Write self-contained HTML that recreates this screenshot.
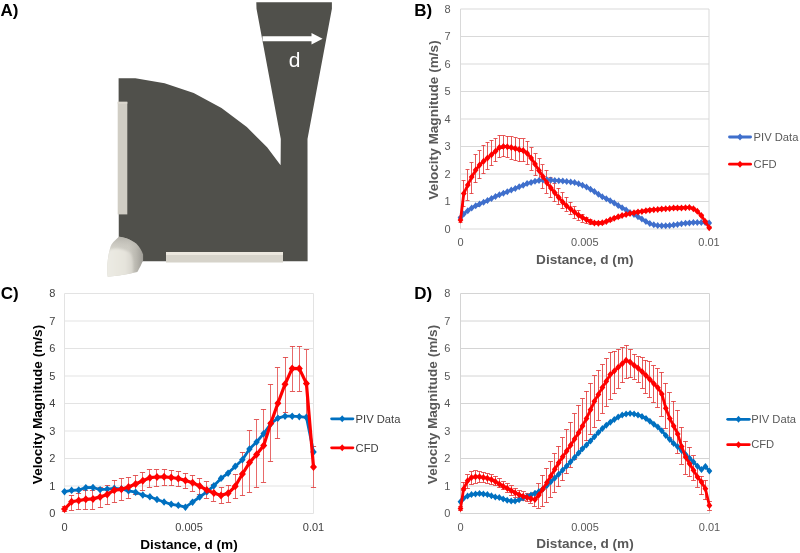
<!DOCTYPE html>
<html><head><meta charset="utf-8"><style>
html,body{margin:0;padding:0;background:#fff;}
svg{display:block;will-change:transform;}
text{font-family:"Liberation Sans", sans-serif;}
</style></head><body>
<svg width="800" height="553" viewBox="0 0 800 553">
<rect width="800" height="553" fill="#fff"/>
<path d="M118.6 78.2 L135.4 78.2 L164.6 83.3 L193.7 92.9 L221.5 108.1 L246.8 127.1 L267.1 147.3 L280.6 165.2 L280.8 139 L256.5 8.8 L256.3 2.3 L331.9 2.3 L331.9 8.8 L307.5 139 L307.6 261.2 L118.8 261.2 Z" fill="#50504b"/><rect x="117.7" y="101.8" width="9.6" height="112.6" fill="#d0cdc4"/><rect x="117.7" y="101.8" width="9.6" height="2" fill="#dad6cd"/><rect x="166" y="252" width="117" height="10.5" fill="#d6d3ca"/><rect x="166" y="252" width="117" height="3" fill="#ebe7de"/><defs><linearGradient id="sphx" gradientUnits="userSpaceOnUse" x1="107" y1="0" x2="143.5" y2="0"><stop offset="0" stop-color="#d6d4cc"/><stop offset="0.6" stop-color="#cdcbc3"/><stop offset="0.8" stop-color="#bab8b0"/><stop offset="1" stop-color="#9c9a94"/></linearGradient><linearGradient id="sphy" gradientUnits="userSpaceOnUse" x1="0" y1="236" x2="0" y2="250"><stop offset="0" stop-color="#b0aea7"/><stop offset="1" stop-color="#c9c7bf" stop-opacity="0"/></linearGradient><linearGradient id="sphf" gradientUnits="userSpaceOnUse" x1="107" y1="0" x2="133" y2="0"><stop offset="0" stop-color="#ecebe4"/><stop offset="0.7" stop-color="#e6e4dc"/><stop offset="1" stop-color="#d6d4cc"/></linearGradient><filter id="blr" x="-20%" y="-20%" width="140%" height="140%"><feGaussianBlur stdDeviation="1.3"/></filter><clipPath id="sphclip"><path d="M119 236.7 C124 237 131 239.5 136.4 243.8 C139.5 247 142 251 143.1 254.6 L143.1 260.5 C142 263 139.5 268.5 137.3 272.1 C131 273.5 125 274.8 119 275.4 L107.7 276.7 C107.2 273 107 270 107.3 266.3 C107.5 262 108 258 108.6 254.6 C109.2 251.5 110 248.5 110.7 246.3 C111.5 244.5 112.2 243.4 113.2 242.2 Z"/></clipPath></defs><path d="M119 236.7 C124 237 131 239.5 136.4 243.8 C139.5 247 142 251 143.1 254.6 L143.1 260.5 C142 263 139.5 268.5 137.3 272.1 C131 273.5 125 274.8 119 275.4 L107.7 276.7 C107.2 273 107 270 107.3 266.3 C107.5 262 108 258 108.6 254.6 C109.2 251.5 110 248.5 110.7 246.3 C111.5 244.5 112.2 243.4 113.2 242.2 Z" fill="url(#sphx)"/><path d="M119 236.7 C124 237 131 239.5 136.4 243.8 C139.5 247 142 251 143.1 254.6 L143.1 260.5 C142 263 139.5 268.5 137.3 272.1 C131 273.5 125 274.8 119 275.4 L107.7 276.7 C107.2 273 107 270 107.3 266.3 C107.5 262 108 258 108.6 254.6 C109.2 251.5 110 248.5 110.7 246.3 C111.5 244.5 112.2 243.4 113.2 242.2 Z" fill="url(#sphy)"/><g clip-path="url(#sphclip)"><path d="M104.7 279.7 C104.2 273 104 270 104.3 266.3 C104.5 262 108 256 108.8 250.8 C111 249 114 248.3 117 248.4 C122 248.7 127 250.2 130.5 253.2 C132.3 256 133 260 133.1 265 L132.9 279.6 Z" fill="url(#sphf)" filter="url(#blr)"/></g><path d="M262.5 36.3 H311.5 V33.1 L322.6 38.75 L311.5 44.4 V41.2 H262.5 Z" fill="#ffffff"/><text x="288.8" y="67.0" font-size="21" fill="#ffffff">d</text><text x="0.6" y="15.7" font-size="17" font-weight="bold" fill="#000">A)</text><text x="414.2" y="16.0" font-size="17" font-weight="bold" fill="#000">B)</text><text x="0.8" y="299.4" font-size="17" font-weight="bold" fill="#000">C)</text><text x="414.2" y="299.4" font-size="17" font-weight="bold" fill="#000">D)</text><line x1="460.5" y1="229.0" x2="709.0" y2="229.0" stroke="#d9d9d9" stroke-width="1"/><line x1="460.5" y1="201.5" x2="709.0" y2="201.5" stroke="#d9d9d9" stroke-width="1"/><line x1="460.5" y1="174.0" x2="709.0" y2="174.0" stroke="#d9d9d9" stroke-width="1"/><line x1="460.5" y1="146.5" x2="709.0" y2="146.5" stroke="#d9d9d9" stroke-width="1"/><line x1="460.5" y1="119.0" x2="709.0" y2="119.0" stroke="#d9d9d9" stroke-width="1"/><line x1="460.5" y1="91.5" x2="709.0" y2="91.5" stroke="#d9d9d9" stroke-width="1"/><line x1="460.5" y1="64.0" x2="709.0" y2="64.0" stroke="#d9d9d9" stroke-width="1"/><line x1="460.5" y1="36.5" x2="709.0" y2="36.5" stroke="#d9d9d9" stroke-width="1"/><line x1="460.5" y1="9.0" x2="709.0" y2="9.0" stroke="#d9d9d9" stroke-width="1"/><line x1="460.5" y1="9.0" x2="460.5" y2="229.0" stroke="#d9d9d9" stroke-width="1"/><line x1="709.0" y1="9.0" x2="709.0" y2="229.0" stroke="#d9d9d9" stroke-width="1"/><text x="450.6" y="232.9" text-anchor="end" font-size="11" fill="#595959">0</text><text x="450.6" y="205.4" text-anchor="end" font-size="11" fill="#595959">1</text><text x="450.6" y="177.9" text-anchor="end" font-size="11" fill="#595959">2</text><text x="450.6" y="150.4" text-anchor="end" font-size="11" fill="#595959">3</text><text x="450.6" y="122.9" text-anchor="end" font-size="11" fill="#595959">4</text><text x="450.6" y="95.4" text-anchor="end" font-size="11" fill="#595959">5</text><text x="450.6" y="67.9" text-anchor="end" font-size="11" fill="#595959">6</text><text x="450.6" y="40.4" text-anchor="end" font-size="11" fill="#595959">7</text><text x="450.6" y="12.9" text-anchor="end" font-size="11" fill="#595959">8</text><text x="460.5" y="246.2" text-anchor="middle" font-size="11" fill="#595959">0</text><text x="584.8" y="246.2" text-anchor="middle" font-size="11" fill="#595959">0.005</text><text x="709.0" y="246.2" text-anchor="middle" font-size="11" fill="#595959">0.01</text><text x="584.8" y="264.2" text-anchor="middle" font-size="13.6" font-weight="bold" fill="#595959">Distance, d (m)</text><text transform="translate(437.8,120.0) rotate(-90)" x="0" y="0" text-anchor="middle" font-size="13.6" font-weight="bold" fill="#595959">Velocity Magnitude (m/s)</text><line x1="729.5" y1="137" x2="750.6" y2="137" stroke="#3f6fcc" stroke-width="2.8" stroke-linecap="round"/><path d="M740.0 133.5L743.0 137.0L740.0 140.5L737.0 137.0Z" fill="#3f6fcc"/><text x="753.6" y="140.7" font-size="11.2" fill="#595959">PIV Data</text><line x1="729.5" y1="164.2" x2="750.6" y2="164.2" stroke="#ff0000" stroke-width="2.8" stroke-linecap="round"/><path d="M740.0 160.7L743.0 164.2L740.0 167.7L737.0 164.2Z" fill="#ff0000"/><text x="753.6" y="167.9" font-size="11.2" fill="#595959">CFD</text><path d="M460.5 217.0V223.0M463.5 180.4V206.9M467.5 169.7V200.2M471.5 162.8V193.9M475.5 154.7V183.0M479.5 150.8V178.7M483.5 145.3V173.6M487.5 142.4V169.5M491.5 140.2V165.9M495.5 138.8V161.8M499.5 135.5V157.6M503.5 135.7V157.0M507.5 136.3V157.4M511.5 136.8V159.3M515.5 137.8V160.6M519.5 138.5V161.7M523.5 139.0V161.8M527.5 141.5V164.4M531.5 147.9V170.0M535.5 153.8V175.4M539.5 158.9V180.4M542.5 164.9V188.4M546.5 170.7V193.0M550.5 177.2V197.5M554.5 183.3V201.7M558.5 188.1V204.9M562.5 192.7V208.9M566.5 197.2V211.4M570.5 202.1V214.7M574.5 206.8V218.1M578.5 210.7V220.3M582.5 214.0V222.1M586.5 217.3V223.4M590.5 219.8V224.3M594.5 221.8V224.9M598.5 221.8V224.8M602.5 221.3V224.2M606.5 220.0V222.9M610.5 218.3V221.1M614.5 216.8V219.5M618.5 215.4V218.1M622.5 214.2V216.9M626.5 213.2V215.8M630.5 212.3V214.9M633.5 211.5V214.1M637.5 210.8V213.3M641.5 210.1V212.7M645.5 209.5V212.0M649.5 208.9V211.4M653.5 208.5V211.0M657.5 208.1V210.6M661.5 207.8V210.2M665.5 207.5V209.9M669.5 207.2V209.6M673.5 206.9V209.4M677.5 206.8V209.2M681.5 206.7V209.1M685.5 206.5V208.9M689.5 206.3V208.7M693.5 207.5V209.9M697.5 210.0V212.4M701.5 214.4V216.8M705.5 220.3V222.7M709.5 226.5V228.9" fill="none" stroke="#e33b3b" stroke-width="1" stroke-opacity="0.85"/><path d="M458.5 216.5H462.5M458.5 222.5H462.5M461.5 180.5H465.5M461.5 206.5H465.5M465.5 169.5H469.5M465.5 200.5H469.5M469.5 162.5H473.5M469.5 193.5H473.5M473.5 154.5H477.5M473.5 182.5H477.5M477.5 150.5H481.5M477.5 178.5H481.5M481.5 145.5H485.5M481.5 173.5H485.5M485.5 142.5H489.5M485.5 169.5H489.5M489.5 140.5H493.5M489.5 165.5H493.5M493.5 138.5H497.5M493.5 161.5H497.5M497.5 135.5H501.5M497.5 157.5H501.5M501.5 135.5H505.5M501.5 156.5H505.5M505.5 136.5H509.5M505.5 157.5H509.5M509.5 136.5H513.5M509.5 159.5H513.5M513.5 137.5H517.5M513.5 160.5H517.5M517.5 138.5H521.5M517.5 161.5H521.5M521.5 138.5H525.5M521.5 161.5H525.5M525.5 141.5H529.5M525.5 164.5H529.5M529.5 147.5H533.5M529.5 170.5H533.5M533.5 153.5H537.5M533.5 175.5H537.5M537.5 158.5H541.5M537.5 180.5H541.5M540.5 164.5H544.5M540.5 188.5H544.5M544.5 170.5H548.5M544.5 193.5H548.5M548.5 177.5H552.5M548.5 197.5H552.5M552.5 183.5H556.5M552.5 201.5H556.5M556.5 188.5H560.5M556.5 204.5H560.5M560.5 192.5H564.5M560.5 208.5H564.5M564.5 197.5H568.5M564.5 211.5H568.5M568.5 202.5H572.5M568.5 214.5H572.5M572.5 206.5H576.5M572.5 218.5H576.5M576.5 210.5H580.5M576.5 220.5H580.5M580.5 214.5H584.5M580.5 222.5H584.5M584.5 217.5H588.5M584.5 223.5H588.5M588.5 219.5H592.5M588.5 224.5H592.5M592.5 221.5H596.5M592.5 224.5H596.5M596.5 221.5H600.5M596.5 224.5H600.5M600.5 221.5H604.5M600.5 224.5H604.5M604.5 220.5H608.5M604.5 222.5H608.5M608.5 218.5H612.5M608.5 221.5H612.5M612.5 216.5H616.5M612.5 219.5H616.5M616.5 215.5H620.5M616.5 218.5H620.5M620.5 214.5H624.5M620.5 216.5H624.5M624.5 213.5H628.5M624.5 215.5H628.5M628.5 212.5H632.5M628.5 214.5H632.5M631.5 211.5H635.5M631.5 214.5H635.5M635.5 210.5H639.5M635.5 213.5H639.5M639.5 210.5H643.5M639.5 212.5H643.5M643.5 209.5H647.5M643.5 212.5H647.5M647.5 208.5H651.5M647.5 211.5H651.5M651.5 208.5H655.5M651.5 210.5H655.5M655.5 208.5H659.5M655.5 210.5H659.5M659.5 207.5H663.5M659.5 210.5H663.5M663.5 207.5H667.5M663.5 209.5H667.5M667.5 207.5H671.5M667.5 209.5H671.5M671.5 206.5H675.5M671.5 209.5H675.5M675.5 206.5H679.5M675.5 209.5H679.5M679.5 206.5H683.5M679.5 209.5H683.5M683.5 206.5H687.5M683.5 208.5H687.5M687.5 206.5H691.5M687.5 208.5H691.5M691.5 207.5H695.5M691.5 209.5H695.5M695.5 210.5H699.5M695.5 212.5H699.5M699.5 214.5H703.5M699.5 216.5H703.5M703.5 220.5H707.5M703.5 222.5H707.5M707.5 226.5H711.5M707.5 228.5H711.5" fill="none" stroke="#e33b3b" stroke-width="1.2" stroke-opacity="0.85"/><polyline points="460.5,217.7 463.8,213.9 467.8,210.7 471.7,208.0 475.7,205.8 479.6,203.9 483.6,202.2 487.5,200.4 491.5,198.4 495.5,196.5 499.4,194.8 503.4,193.2 507.3,191.7 511.3,190.1 515.3,188.5 519.2,186.8 523.2,185.2 527.1,183.6 531.1,182.4 535.0,181.3 539.0,180.6 543.0,180.0 546.9,179.8 550.9,180.0 554.8,180.4 558.8,180.7 562.8,181.1 566.7,181.5 570.7,182.0 574.6,182.6 578.6,183.7 582.5,185.3 586.5,187.1 590.5,189.2 594.4,191.6 598.4,194.3 602.3,196.8 606.3,198.8 610.2,200.7 614.2,202.9 618.2,205.4 622.1,207.7 626.1,210.0 630.0,212.4 634.0,214.6 638.0,216.8 641.9,219.0 645.9,221.4 649.8,223.5 653.8,224.7 657.7,225.5 661.7,225.8 665.7,225.7 669.6,225.5 673.6,225.1 677.5,224.4 681.5,223.7 685.5,223.2 689.4,222.9 693.4,222.6 697.3,222.5 701.3,222.5 705.2,222.6 709.2,222.9" fill="none" stroke="#3f6fcc" stroke-width="2.7" stroke-linejoin="round"/><path d="M460.5 214.2L463.4 217.7L460.5 221.2L457.6 217.7ZM463.8 210.4L466.7 213.9L463.8 217.4L460.9 213.9ZM467.8 207.2L470.7 210.7L467.8 214.2L464.9 210.7ZM471.7 204.5L474.6 208.0L471.7 211.5L468.8 208.0ZM475.7 202.3L478.6 205.8L475.7 209.3L472.8 205.8ZM479.6 200.4L482.5 203.9L479.6 207.4L476.7 203.9ZM483.6 198.7L486.5 202.2L483.6 205.7L480.7 202.2ZM487.5 196.9L490.4 200.4L487.5 203.9L484.6 200.4ZM491.5 194.9L494.4 198.4L491.5 201.9L488.6 198.4ZM495.5 193.0L498.4 196.5L495.5 200.0L492.6 196.5ZM499.4 191.3L502.3 194.8L499.4 198.3L496.5 194.8ZM503.4 189.7L506.3 193.2L503.4 196.7L500.5 193.2ZM507.3 188.2L510.2 191.7L507.3 195.2L504.4 191.7ZM511.3 186.6L514.2 190.1L511.3 193.6L508.4 190.1ZM515.3 185.0L518.2 188.5L515.3 192.0L512.4 188.5ZM519.2 183.3L522.1 186.8L519.2 190.3L516.3 186.8ZM523.2 181.7L526.1 185.2L523.2 188.7L520.3 185.2ZM527.1 180.1L530.0 183.6L527.1 187.1L524.2 183.6ZM531.1 178.9L534.0 182.4L531.1 185.9L528.2 182.4ZM535.0 177.8L537.9 181.3L535.0 184.8L532.1 181.3ZM539.0 177.1L541.9 180.6L539.0 184.1L536.1 180.6ZM543.0 176.5L545.9 180.0L543.0 183.5L540.1 180.0ZM546.9 176.3L549.8 179.8L546.9 183.3L544.0 179.8ZM550.9 176.5L553.8 180.0L550.9 183.5L548.0 180.0ZM554.8 176.9L557.7 180.4L554.8 183.9L551.9 180.4ZM558.8 177.2L561.7 180.7L558.8 184.2L555.9 180.7ZM562.8 177.6L565.7 181.1L562.8 184.6L559.9 181.1ZM566.7 178.0L569.6 181.5L566.7 185.0L563.8 181.5ZM570.7 178.5L573.6 182.0L570.7 185.5L567.8 182.0ZM574.6 179.1L577.5 182.6L574.6 186.1L571.7 182.6ZM578.6 180.2L581.5 183.7L578.6 187.2L575.7 183.7ZM582.5 181.8L585.4 185.3L582.5 188.8L579.6 185.3ZM586.5 183.6L589.4 187.1L586.5 190.6L583.6 187.1ZM590.5 185.7L593.4 189.2L590.5 192.7L587.6 189.2ZM594.4 188.1L597.3 191.6L594.4 195.1L591.5 191.6ZM598.4 190.8L601.3 194.3L598.4 197.8L595.5 194.3ZM602.3 193.3L605.2 196.8L602.3 200.3L599.4 196.8ZM606.3 195.3L609.2 198.8L606.3 202.3L603.4 198.8ZM610.2 197.2L613.1 200.7L610.2 204.2L607.3 200.7ZM614.2 199.4L617.1 202.9L614.2 206.4L611.3 202.9ZM618.2 201.9L621.1 205.4L618.2 208.9L615.3 205.4ZM622.1 204.2L625.0 207.7L622.1 211.2L619.2 207.7ZM626.1 206.5L629.0 210.0L626.1 213.5L623.2 210.0ZM630.0 208.9L632.9 212.4L630.0 215.9L627.1 212.4ZM634.0 211.1L636.9 214.6L634.0 218.1L631.1 214.6ZM638.0 213.3L640.9 216.8L638.0 220.3L635.1 216.8ZM641.9 215.5L644.8 219.0L641.9 222.5L639.0 219.0ZM645.9 217.9L648.8 221.4L645.9 224.9L643.0 221.4ZM649.8 220.0L652.7 223.5L649.8 227.0L646.9 223.5ZM653.8 221.2L656.7 224.7L653.8 228.2L650.9 224.7ZM657.7 222.0L660.6 225.5L657.7 229.0L654.8 225.5ZM661.7 222.3L664.6 225.8L661.7 229.3L658.8 225.8ZM665.7 222.2L668.6 225.7L665.7 229.2L662.8 225.7ZM669.6 222.0L672.5 225.5L669.6 229.0L666.7 225.5ZM673.6 221.6L676.5 225.1L673.6 228.6L670.7 225.1ZM677.5 220.9L680.4 224.4L677.5 227.9L674.6 224.4ZM681.5 220.2L684.4 223.7L681.5 227.2L678.6 223.7ZM685.5 219.7L688.4 223.2L685.5 226.7L682.6 223.2ZM689.4 219.4L692.3 222.9L689.4 226.4L686.5 222.9ZM693.4 219.1L696.3 222.6L693.4 226.1L690.5 222.6ZM697.3 219.0L700.2 222.5L697.3 226.0L694.4 222.5ZM701.3 219.0L704.2 222.5L701.3 226.0L698.4 222.5ZM705.2 219.1L708.1 222.6L705.2 226.1L702.3 222.6ZM709.2 219.4L712.1 222.9L709.2 226.4L706.3 222.9Z" fill="#3f6fcc"/><polyline points="460.5,220.0 463.8,193.5 467.8,185.0 471.7,177.0 475.7,170.1 479.6,165.0 483.6,161.2 487.5,158.0 491.5,154.7 495.5,151.3 499.4,147.6 503.4,146.4 507.3,146.7 511.3,147.6 515.3,148.6 519.2,149.5 523.2,150.6 527.1,153.2 531.1,158.1 535.0,164.1 539.0,170.4 543.0,176.8 546.9,182.8 550.9,188.0 554.8,192.8 558.8,197.6 562.8,202.2 566.7,206.0 570.7,209.1 574.6,212.3 578.6,215.2 582.5,217.6 586.5,219.8 590.5,221.7 594.4,222.9 598.4,223.3 602.3,222.7 606.3,221.5 610.2,219.7 614.2,218.2 618.2,216.7 622.1,215.5 626.1,214.5 630.0,213.6 634.0,212.8 638.0,212.1 641.9,211.4 645.9,210.7 649.8,210.2 653.8,209.7 657.7,209.4 661.7,209.0 665.7,208.7 669.6,208.4 673.6,208.1 677.5,208.0 681.5,207.9 685.5,207.7 689.4,207.5 693.4,208.7 697.3,211.2 701.3,215.6 705.2,221.5 709.2,227.7" fill="none" stroke="#ff0000" stroke-width="2.8" stroke-linejoin="round"/><path d="M460.5 216.5L463.4 220.0L460.5 223.5L457.6 220.0ZM463.8 190.0L466.7 193.5L463.8 197.0L460.9 193.5ZM467.8 181.5L470.7 185.0L467.8 188.5L464.9 185.0ZM471.7 173.5L474.6 177.0L471.7 180.5L468.8 177.0ZM475.7 166.6L478.6 170.1L475.7 173.6L472.8 170.1ZM479.6 161.5L482.5 165.0L479.6 168.5L476.7 165.0ZM483.6 157.7L486.5 161.2L483.6 164.7L480.7 161.2ZM487.5 154.5L490.4 158.0L487.5 161.5L484.6 158.0ZM491.5 151.2L494.4 154.7L491.5 158.2L488.6 154.7ZM495.5 147.8L498.4 151.3L495.5 154.8L492.6 151.3ZM499.4 144.1L502.3 147.6L499.4 151.1L496.5 147.6ZM503.4 142.9L506.3 146.4L503.4 149.9L500.5 146.4ZM507.3 143.2L510.2 146.7L507.3 150.2L504.4 146.7ZM511.3 144.1L514.2 147.6L511.3 151.1L508.4 147.6ZM515.3 145.1L518.2 148.6L515.3 152.1L512.4 148.6ZM519.2 146.0L522.1 149.5L519.2 153.0L516.3 149.5ZM523.2 147.1L526.1 150.6L523.2 154.1L520.3 150.6ZM527.1 149.7L530.0 153.2L527.1 156.7L524.2 153.2ZM531.1 154.6L534.0 158.1L531.1 161.6L528.2 158.1ZM535.0 160.6L537.9 164.1L535.0 167.6L532.1 164.1ZM539.0 166.9L541.9 170.4L539.0 173.9L536.1 170.4ZM543.0 173.3L545.9 176.8L543.0 180.3L540.1 176.8ZM546.9 179.3L549.8 182.8L546.9 186.3L544.0 182.8ZM550.9 184.5L553.8 188.0L550.9 191.5L548.0 188.0ZM554.8 189.3L557.7 192.8L554.8 196.3L551.9 192.8ZM558.8 194.1L561.7 197.6L558.8 201.1L555.9 197.6ZM562.8 198.7L565.7 202.2L562.8 205.7L559.9 202.2ZM566.7 202.5L569.6 206.0L566.7 209.5L563.8 206.0ZM570.7 205.6L573.6 209.1L570.7 212.6L567.8 209.1ZM574.6 208.8L577.5 212.3L574.6 215.8L571.7 212.3ZM578.6 211.7L581.5 215.2L578.6 218.7L575.7 215.2ZM582.5 214.1L585.4 217.6L582.5 221.1L579.6 217.6ZM586.5 216.3L589.4 219.8L586.5 223.3L583.6 219.8ZM590.5 218.2L593.4 221.7L590.5 225.2L587.6 221.7ZM594.4 219.4L597.3 222.9L594.4 226.4L591.5 222.9ZM598.4 219.8L601.3 223.3L598.4 226.8L595.5 223.3ZM602.3 219.2L605.2 222.7L602.3 226.2L599.4 222.7ZM606.3 218.0L609.2 221.5L606.3 225.0L603.4 221.5ZM610.2 216.2L613.1 219.7L610.2 223.2L607.3 219.7ZM614.2 214.7L617.1 218.2L614.2 221.7L611.3 218.2ZM618.2 213.2L621.1 216.7L618.2 220.2L615.3 216.7ZM622.1 212.0L625.0 215.5L622.1 219.0L619.2 215.5ZM626.1 211.0L629.0 214.5L626.1 218.0L623.2 214.5ZM630.0 210.1L632.9 213.6L630.0 217.1L627.1 213.6ZM634.0 209.3L636.9 212.8L634.0 216.3L631.1 212.8ZM638.0 208.6L640.9 212.1L638.0 215.6L635.1 212.1ZM641.9 207.9L644.8 211.4L641.9 214.9L639.0 211.4ZM645.9 207.2L648.8 210.7L645.9 214.2L643.0 210.7ZM649.8 206.7L652.7 210.2L649.8 213.7L646.9 210.2ZM653.8 206.2L656.7 209.7L653.8 213.2L650.9 209.7ZM657.7 205.9L660.6 209.4L657.7 212.9L654.8 209.4ZM661.7 205.5L664.6 209.0L661.7 212.5L658.8 209.0ZM665.7 205.2L668.6 208.7L665.7 212.2L662.8 208.7ZM669.6 204.9L672.5 208.4L669.6 211.9L666.7 208.4ZM673.6 204.6L676.5 208.1L673.6 211.6L670.7 208.1ZM677.5 204.5L680.4 208.0L677.5 211.5L674.6 208.0ZM681.5 204.4L684.4 207.9L681.5 211.4L678.6 207.9ZM685.5 204.2L688.4 207.7L685.5 211.2L682.6 207.7ZM689.4 204.0L692.3 207.5L689.4 211.0L686.5 207.5ZM693.4 205.2L696.3 208.7L693.4 212.2L690.5 208.7ZM697.3 207.7L700.2 211.2L697.3 214.7L694.4 211.2ZM701.3 212.1L704.2 215.6L701.3 219.1L698.4 215.6ZM705.2 218.0L708.1 221.5L705.2 225.0L702.3 221.5ZM709.2 224.2L712.1 227.7L709.2 231.2L706.3 227.7Z" fill="#ff0000"/><line x1="64.5" y1="513.5" x2="313.5" y2="513.5" stroke="#e3e3e3" stroke-width="1"/><line x1="64.5" y1="486.0" x2="313.5" y2="486.0" stroke="#e3e3e3" stroke-width="1"/><line x1="64.5" y1="458.5" x2="313.5" y2="458.5" stroke="#e3e3e3" stroke-width="1"/><line x1="64.5" y1="431.0" x2="313.5" y2="431.0" stroke="#e3e3e3" stroke-width="1"/><line x1="64.5" y1="403.5" x2="313.5" y2="403.5" stroke="#e3e3e3" stroke-width="1"/><line x1="64.5" y1="376.0" x2="313.5" y2="376.0" stroke="#e3e3e3" stroke-width="1"/><line x1="64.5" y1="348.5" x2="313.5" y2="348.5" stroke="#e3e3e3" stroke-width="1"/><line x1="64.5" y1="321.0" x2="313.5" y2="321.0" stroke="#e3e3e3" stroke-width="1"/><line x1="64.5" y1="293.5" x2="313.5" y2="293.5" stroke="#e3e3e3" stroke-width="1"/><line x1="64.5" y1="293.5" x2="64.5" y2="513.5" stroke="#e3e3e3" stroke-width="1"/><line x1="313.5" y1="293.5" x2="313.5" y2="513.5" stroke="#e3e3e3" stroke-width="1"/><text x="55.4" y="517.4" text-anchor="end" font-size="11" fill="#404040">0</text><text x="55.4" y="489.9" text-anchor="end" font-size="11" fill="#404040">1</text><text x="55.4" y="462.4" text-anchor="end" font-size="11" fill="#404040">2</text><text x="55.4" y="434.9" text-anchor="end" font-size="11" fill="#404040">3</text><text x="55.4" y="407.4" text-anchor="end" font-size="11" fill="#404040">4</text><text x="55.4" y="379.9" text-anchor="end" font-size="11" fill="#404040">5</text><text x="55.4" y="352.4" text-anchor="end" font-size="11" fill="#404040">6</text><text x="55.4" y="324.9" text-anchor="end" font-size="11" fill="#404040">7</text><text x="55.4" y="297.4" text-anchor="end" font-size="11" fill="#404040">8</text><text x="64.5" y="530.6" text-anchor="middle" font-size="11" fill="#404040">0</text><text x="189.0" y="530.6" text-anchor="middle" font-size="11" fill="#404040">0.005</text><text x="313.5" y="530.6" text-anchor="middle" font-size="11" fill="#404040">0.01</text><text x="189.0" y="548.7" text-anchor="middle" font-size="13.6" font-weight="bold" fill="#000000">Distance, d (m)</text><text transform="translate(42.3,404.5) rotate(-90)" x="0" y="0" text-anchor="middle" font-size="13.6" font-weight="bold" fill="#000000">Velocity Magnitude (m/s)</text><line x1="331.6" y1="418.8" x2="352.9" y2="418.8" stroke="#0070c0" stroke-width="2.8" stroke-linecap="round"/><path d="M342.2 415.3L345.2 418.8L342.2 422.3L339.2 418.8Z" fill="#0070c0"/><text x="355.6" y="422.5" font-size="11.2" fill="#404040">PIV Data</text><line x1="331.6" y1="447.8" x2="352.9" y2="447.8" stroke="#ff0000" stroke-width="2.8" stroke-linecap="round"/><path d="M342.2 444.3L345.2 447.8L342.2 451.3L339.2 447.8Z" fill="#ff0000"/><text x="355.6" y="451.5" font-size="11.2" fill="#404040">CFD</text><path d="M64.5 506.6V511.6M71.5 495.2V510.3M78.5 493.2V509.9M85.5 490.4V509.9M92.5 490.4V509.5M100.5 487.5V507.9M107.5 485.1V505.0M114.5 480.5V502.4M121.5 478.9V500.3M128.5 477.5V498.3M135.5 475.5V495.0M142.5 472.2V490.5M149.5 469.8V487.3M156.5 469.6V486.5M164.5 469.4V485.4M171.5 470.3V485.9M178.5 471.3V486.8M185.5 473.3V488.4M192.5 475.4V491.2M199.5 478.2V494.1M206.5 481.5V498.2M213.5 484.7V501.2M221.5 487.3V503.4M228.5 485.4V502.5M235.5 474.0V498.7M242.5 452.2V495.8M249.5 430.4V492.0M256.5 419.9V487.3M263.5 409.1V482.0M270.5 384.5V461.7M277.5 367.7V439.0M285.5 357.1V412.6M292.5 346.0V391.2M299.5 346.3V391.5M306.5 349.8V417.0M313.5 446.4V487.6" fill="none" stroke="#e65a5a" stroke-width="1" stroke-opacity="0.9"/><path d="M61.9 506.5H67.1M61.9 511.5H67.1M68.9 495.5H74.1M68.9 510.5H74.1M75.9 493.5H81.1M75.9 509.5H81.1M82.9 490.5H88.1M82.9 509.5H88.1M89.9 490.5H95.1M89.9 509.5H95.1M97.9 487.5H103.1M97.9 507.5H103.1M104.9 485.5H110.1M104.9 504.5H110.1M111.9 480.5H117.1M111.9 502.5H117.1M118.9 478.5H124.1M118.9 500.5H124.1M125.9 477.5H131.1M125.9 498.5H131.1M132.9 475.5H138.1M132.9 494.5H138.1M139.9 472.5H145.1M139.9 490.5H145.1M146.9 469.5H152.1M146.9 487.5H152.1M153.9 469.5H159.1M153.9 486.5H159.1M161.9 469.5H167.1M161.9 485.5H167.1M168.9 470.5H174.1M168.9 485.5H174.1M175.9 471.5H181.1M175.9 486.5H181.1M182.9 473.5H188.1M182.9 488.5H188.1M189.9 475.5H195.1M189.9 491.5H195.1M196.9 478.5H202.1M196.9 494.5H202.1M203.9 481.5H209.1M203.9 498.5H209.1M210.9 484.5H216.1M210.9 501.5H216.1M218.9 487.5H224.1M218.9 503.5H224.1M225.9 485.5H231.1M225.9 502.5H231.1M232.9 474.5H238.1M232.9 498.5H238.1M239.9 452.5H245.1M239.9 495.5H245.1M246.9 430.5H252.1M246.9 492.5H252.1M253.9 419.5H259.1M253.9 487.5H259.1M260.9 409.5H266.1M260.9 482.5H266.1M267.9 384.5H273.1M267.9 461.5H273.1M274.9 367.5H280.1M274.9 438.5H280.1M282.9 357.5H288.1M282.9 412.5H288.1M289.9 346.5H295.1M289.9 391.5H295.1M296.9 346.5H302.1M296.9 391.5H302.1M303.9 349.5H309.1M303.9 416.5H309.1M310.9 446.5H316.1M310.9 487.5H316.1" fill="none" stroke="#e04848" stroke-width="1.2" stroke-opacity="0.9"/><polyline points="64.5,491.6 71.6,490.4 78.7,490.0 85.8,487.6 93.0,487.5 100.1,489.6 107.2,489.1 114.3,488.4 121.4,488.9 128.5,490.9 135.6,492.2 142.8,495.0 149.9,496.8 157.0,499.5 164.1,502.0 171.2,504.3 178.3,505.4 185.4,507.1 192.6,502.1 199.7,497.0 206.8,491.9 213.9,485.7 221.0,478.4 228.1,473.1 235.2,466.4 242.4,459.8 249.5,449.0 256.6,442.0 263.7,433.6 270.8,423.7 277.9,418.1 285.0,416.2 292.2,416.2 299.3,416.6 306.4,417.3 313.5,452.0" fill="none" stroke="#0070c0" stroke-width="2.8" stroke-linejoin="round"/><path d="M64.5 487.9L67.8 491.6L64.5 495.4L61.2 491.6ZM71.6 486.6L74.9 490.4L71.6 494.1L68.4 490.4ZM78.7 486.2L82.0 490.0L78.7 493.8L75.5 490.0ZM85.8 483.9L89.1 487.6L85.8 491.4L82.6 487.6ZM93.0 483.8L96.2 487.5L93.0 491.2L89.7 487.5ZM100.1 485.9L103.3 489.6L100.1 493.4L96.8 489.6ZM107.2 485.4L110.4 489.1L107.2 492.9L103.9 489.1ZM114.3 484.6L117.5 488.4L114.3 492.1L111.0 488.4ZM121.4 485.1L124.7 488.9L121.4 492.6L118.2 488.9ZM128.5 487.1L131.8 490.9L128.5 494.6L125.3 490.9ZM135.6 488.4L138.9 492.2L135.6 495.9L132.4 492.2ZM142.8 491.2L146.0 495.0L142.8 498.8L139.5 495.0ZM149.9 493.1L153.1 496.8L149.9 500.6L146.6 496.8ZM157.0 495.8L160.2 499.5L157.0 503.2L153.7 499.5ZM164.1 498.2L167.3 502.0L164.1 505.8L160.8 502.0ZM171.2 500.6L174.5 504.3L171.2 508.1L168.0 504.3ZM178.3 501.6L181.6 505.4L178.3 509.1L175.1 505.4ZM185.4 503.4L188.7 507.1L185.4 510.9L182.2 507.1ZM192.6 498.4L195.8 502.1L192.6 505.9L189.3 502.1ZM199.7 493.2L202.9 497.0L199.7 500.8L196.4 497.0ZM206.8 488.1L210.0 491.9L206.8 495.6L203.5 491.9ZM213.9 481.9L217.1 485.7L213.9 489.4L210.6 485.7ZM221.0 474.6L224.3 478.4L221.0 482.1L217.8 478.4ZM228.1 469.4L231.4 473.1L228.1 476.9L224.9 473.1ZM235.2 462.6L238.5 466.4L235.2 470.1L232.0 466.4ZM242.4 456.1L245.6 459.8L242.4 463.6L239.1 459.8ZM249.5 445.2L252.7 449.0L249.5 452.8L246.2 449.0ZM256.6 438.2L259.8 442.0L256.6 445.8L253.3 442.0ZM263.7 429.9L266.9 433.6L263.7 437.4L260.4 433.6ZM270.8 419.9L274.1 423.7L270.8 427.4L267.6 423.7ZM277.9 414.4L281.2 418.1L277.9 421.9L274.7 418.1ZM285.0 412.4L288.3 416.2L285.0 419.9L281.8 416.2ZM292.2 412.4L295.4 416.2L292.2 419.9L288.9 416.2ZM299.3 412.9L302.5 416.6L299.3 420.4L296.0 416.6ZM306.4 413.6L309.6 417.3L306.4 421.1L303.1 417.3ZM313.5 448.2L316.8 452.0L313.5 455.8L310.2 452.0Z" fill="#0070c0"/><polyline points="64.5,509.1 71.6,501.8 78.7,500.5 85.8,499.3 93.0,498.9 100.1,496.9 107.2,494.4 114.3,490.2 121.4,489.3 128.5,486.9 135.6,484.0 142.8,480.8 149.9,477.7 157.0,477.0 164.1,476.8 171.2,477.5 178.3,478.5 185.4,480.4 192.6,482.8 199.7,486.0 206.8,490.1 213.9,493.0 221.0,495.4 228.1,493.3 235.2,486.3 242.4,474.0 249.5,462.6 256.6,454.5 263.7,445.4 270.8,423.2 277.9,403.2 285.0,384.3 292.2,368.4 299.3,368.6 306.4,383.4 313.5,467.0" fill="none" stroke="#ff0000" stroke-width="3.2" stroke-linejoin="round"/><path d="M64.5 505.1L68.0 509.1L64.5 513.1L61.0 509.1ZM71.6 497.8L75.1 501.8L71.6 505.8L68.1 501.8ZM78.7 496.5L82.2 500.5L78.7 504.5L75.2 500.5ZM85.8 495.3L89.3 499.3L85.8 503.3L82.3 499.3ZM93.0 494.9L96.5 498.9L93.0 502.9L89.5 498.9ZM100.1 492.9L103.6 496.9L100.1 500.9L96.6 496.9ZM107.2 490.4L110.7 494.4L107.2 498.4L103.7 494.4ZM114.3 486.2L117.8 490.2L114.3 494.2L110.8 490.2ZM121.4 485.3L124.9 489.3L121.4 493.3L117.9 489.3ZM128.5 482.9L132.0 486.9L128.5 490.9L125.0 486.9ZM135.6 480.0L139.1 484.0L135.6 488.0L132.1 484.0ZM142.8 476.8L146.3 480.8L142.8 484.8L139.3 480.8ZM149.9 473.7L153.4 477.7L149.9 481.7L146.4 477.7ZM157.0 473.0L160.5 477.0L157.0 481.0L153.5 477.0ZM164.1 472.8L167.6 476.8L164.1 480.8L160.6 476.8ZM171.2 473.5L174.7 477.5L171.2 481.5L167.7 477.5ZM178.3 474.5L181.8 478.5L178.3 482.5L174.8 478.5ZM185.4 476.4L188.9 480.4L185.4 484.4L181.9 480.4ZM192.6 478.8L196.1 482.8L192.6 486.8L189.1 482.8ZM199.7 482.0L203.2 486.0L199.7 490.0L196.2 486.0ZM206.8 486.1L210.3 490.1L206.8 494.1L203.3 490.1ZM213.9 489.0L217.4 493.0L213.9 497.0L210.4 493.0ZM221.0 491.4L224.5 495.4L221.0 499.4L217.5 495.4ZM228.1 489.3L231.6 493.3L228.1 497.3L224.6 493.3ZM235.2 482.3L238.7 486.3L235.2 490.3L231.7 486.3ZM242.4 470.0L245.9 474.0L242.4 478.0L238.9 474.0ZM249.5 458.6L253.0 462.6L249.5 466.6L246.0 462.6ZM256.6 450.5L260.1 454.5L256.6 458.5L253.1 454.5ZM263.7 441.4L267.2 445.4L263.7 449.4L260.2 445.4ZM270.8 419.2L274.3 423.2L270.8 427.2L267.3 423.2ZM277.9 399.2L281.4 403.2L277.9 407.2L274.4 403.2ZM285.0 380.3L288.5 384.3L285.0 388.3L281.5 384.3ZM292.2 364.4L295.7 368.4L292.2 372.4L288.7 368.4ZM299.3 364.6L302.8 368.6L299.3 372.6L295.8 368.6ZM306.4 379.4L309.9 383.4L306.4 387.4L302.9 383.4ZM313.5 463.0L317.0 467.0L313.5 471.0L310.0 467.0Z" fill="#ff0000"/><line x1="460.5" y1="513.5" x2="709.5" y2="513.5" stroke="#d4d4d4" stroke-width="1"/><line x1="460.5" y1="486.0" x2="709.5" y2="486.0" stroke="#d4d4d4" stroke-width="1"/><line x1="460.5" y1="458.5" x2="709.5" y2="458.5" stroke="#d4d4d4" stroke-width="1"/><line x1="460.5" y1="431.0" x2="709.5" y2="431.0" stroke="#d4d4d4" stroke-width="1"/><line x1="460.5" y1="403.5" x2="709.5" y2="403.5" stroke="#d4d4d4" stroke-width="1"/><line x1="460.5" y1="376.0" x2="709.5" y2="376.0" stroke="#d4d4d4" stroke-width="1"/><line x1="460.5" y1="348.5" x2="709.5" y2="348.5" stroke="#d4d4d4" stroke-width="1"/><line x1="460.5" y1="321.0" x2="709.5" y2="321.0" stroke="#d4d4d4" stroke-width="1"/><line x1="460.5" y1="293.5" x2="709.5" y2="293.5" stroke="#d4d4d4" stroke-width="1"/><line x1="460.5" y1="293.5" x2="460.5" y2="513.5" stroke="#d4d4d4" stroke-width="1"/><line x1="709.5" y1="293.5" x2="709.5" y2="513.5" stroke="#d4d4d4" stroke-width="1"/><text x="450.4" y="517.4" text-anchor="end" font-size="11" fill="#595959">0</text><text x="450.4" y="489.9" text-anchor="end" font-size="11" fill="#595959">1</text><text x="450.4" y="462.4" text-anchor="end" font-size="11" fill="#595959">2</text><text x="450.4" y="434.9" text-anchor="end" font-size="11" fill="#595959">3</text><text x="450.4" y="407.4" text-anchor="end" font-size="11" fill="#595959">4</text><text x="450.4" y="379.9" text-anchor="end" font-size="11" fill="#595959">5</text><text x="450.4" y="352.4" text-anchor="end" font-size="11" fill="#595959">6</text><text x="450.4" y="324.9" text-anchor="end" font-size="11" fill="#595959">7</text><text x="450.4" y="297.4" text-anchor="end" font-size="11" fill="#595959">8</text><text x="460.5" y="530.6" text-anchor="middle" font-size="11" fill="#595959">0</text><text x="585.0" y="530.6" text-anchor="middle" font-size="11" fill="#595959">0.005</text><text x="709.5" y="530.6" text-anchor="middle" font-size="11" fill="#595959">0.01</text><text x="585.0" y="548.3" text-anchor="middle" font-size="13.6" font-weight="bold" fill="#595959">Distance, d (m)</text><text transform="translate(437.3,404.5) rotate(-90)" x="0" y="0" text-anchor="middle" font-size="13.6" font-weight="bold" fill="#595959">Velocity Magnitude (m/s)</text><line x1="727.6999999999999" y1="419.3" x2="749.3000000000001" y2="419.3" stroke="#0070c0" stroke-width="2.8" stroke-linecap="round"/><path d="M738.5 415.8L741.5 419.3L738.5 422.8L735.5 419.3Z" fill="#0070c0"/><text x="751.2" y="423.0" font-size="11.2" fill="#595959">PIV Data</text><line x1="727.6999999999999" y1="444.7" x2="749.3000000000001" y2="444.7" stroke="#ff0000" stroke-width="2.8" stroke-linecap="round"/><path d="M738.5 441.2L741.5 444.7L738.5 448.2L735.5 444.7Z" fill="#ff0000"/><text x="751.2" y="448.4" font-size="11.2" fill="#595959">CFD</text><path d="M460.5 506.0V510.5M463.5 482.2V490.8M467.5 474.9V488.6M471.5 471.9V484.8M475.5 470.9V483.1M479.5 471.1V482.5M483.5 472.2V482.5M487.5 473.6V483.4M491.5 474.7V484.8M495.5 476.1V486.0M499.5 478.4V487.4M503.5 481.7V489.8M507.5 483.6V492.5M511.5 485.9V495.0M515.5 488.3V497.3M519.5 490.2V499.1M523.5 491.9V500.7M527.5 493.2V501.8M530.5 494.1V503.3M534.5 492.5V506.4M538.5 483.8V508.0M542.5 475.1V506.6M546.5 468.4V502.3M550.5 461.2V497.5M554.5 453.6V492.5M558.5 446.2V487.0M562.5 438.0V481.0M566.5 429.9V474.0M570.5 422.2V467.3M574.5 413.7V459.8M578.5 405.4V453.2M582.5 398.8V447.1M586.5 391.1V440.8M590.5 383.1V434.5M594.5 375.9V427.7M598.5 370.4V420.2M602.5 364.5V413.3M606.5 358.7V406.6M610.5 352.6V399.8M614.5 351.2V394.0M618.5 349.2V388.2M622.5 347.6V383.0M626.5 345.4V378.2M630.5 349.3V378.0M634.5 354.2V379.2M638.5 356.7V382.3M642.5 357.6V388.3M645.5 360.0V393.7M649.5 361.1V397.5M653.5 365.7V402.4M657.5 368.5V407.5M661.5 372.4V416.1M665.5 383.1V428.7M669.5 392.7V437.4M673.5 401.1V444.2M677.5 410.2V453.5M681.5 427.3V464.1M685.5 441.4V474.4M689.5 447.1V476.5M693.5 455.9V480.2M697.5 466.9V487.4M701.5 476.2V494.9M705.5 480.2V500.0M709.5 501.5V510.5" fill="none" stroke="#e33b3b" stroke-width="1" stroke-opacity="0.85"/><path d="M458.1 506.5H462.9M458.1 510.5H462.9M461.1 482.5H465.9M461.1 490.5H465.9M465.1 474.5H469.9M465.1 488.5H469.9M469.1 471.5H473.9M469.1 484.5H473.9M473.1 470.5H477.9M473.1 483.5H477.9M477.1 471.5H481.9M477.1 482.5H481.9M481.1 472.5H485.9M481.1 482.5H485.9M485.1 473.5H489.9M485.1 483.5H489.9M489.1 474.5H493.9M489.1 484.5H493.9M493.1 476.5H497.9M493.1 485.5H497.9M497.1 478.5H501.9M497.1 487.5H501.9M501.1 481.5H505.9M501.1 489.5H505.9M505.1 483.5H509.9M505.1 492.5H509.9M509.1 485.5H513.9M509.1 495.5H513.9M513.1 488.5H517.9M513.1 497.5H517.9M517.1 490.5H521.9M517.1 499.5H521.9M521.1 491.5H525.9M521.1 500.5H525.9M525.1 493.5H529.9M525.1 501.5H529.9M528.1 494.5H532.9M528.1 503.5H532.9M532.1 492.5H536.9M532.1 506.5H536.9M536.1 483.5H540.9M536.1 508.5H540.9M540.1 475.5H544.9M540.1 506.5H544.9M544.1 468.5H548.9M544.1 502.5H548.9M548.1 461.5H552.9M548.1 497.5H552.9M552.1 453.5H556.9M552.1 492.5H556.9M556.1 446.5H560.9M556.1 486.5H560.9M560.1 437.5H564.9M560.1 480.5H564.9M564.1 429.5H568.9M564.1 473.5H568.9M568.1 422.5H572.9M568.1 467.5H572.9M572.1 413.5H576.9M572.1 459.5H576.9M576.1 405.5H580.9M576.1 453.5H580.9M580.1 398.5H584.9M580.1 447.5H584.9M584.1 391.5H588.9M584.1 440.5H588.9M588.1 383.5H592.9M588.1 434.5H592.9M592.1 375.5H596.9M592.1 427.5H596.9M596.1 370.5H600.9M596.1 420.5H600.9M600.1 364.5H604.9M600.1 413.5H604.9M604.1 358.5H608.9M604.1 406.5H608.9M608.1 352.5H612.9M608.1 399.5H612.9M612.1 351.5H616.9M612.1 393.5H616.9M616.1 349.5H620.9M616.1 388.5H620.9M620.1 347.5H624.9M620.1 382.5H624.9M624.1 345.5H628.9M624.1 378.5H628.9M628.1 349.5H632.9M628.1 377.5H632.9M632.1 354.5H636.9M632.1 379.5H636.9M636.1 356.5H640.9M636.1 382.5H640.9M640.1 357.5H644.9M640.1 388.5H644.9M643.1 360.5H647.9M643.1 393.5H647.9M647.1 361.5H651.9M647.1 397.5H651.9M651.1 365.5H655.9M651.1 402.5H655.9M655.1 368.5H659.9M655.1 407.5H659.9M659.1 372.5H663.9M659.1 416.5H663.9M663.1 383.5H667.9M663.1 428.5H667.9M667.1 392.5H671.9M667.1 437.5H671.9M671.1 401.5H675.9M671.1 444.5H675.9M675.1 410.5H679.9M675.1 453.5H679.9M679.1 427.5H683.9M679.1 464.5H683.9M683.1 441.5H687.9M683.1 474.5H687.9M687.1 447.5H691.9M687.1 476.5H691.9M691.1 455.5H695.9M691.1 480.5H695.9M695.1 466.5H699.9M695.1 487.5H699.9M699.1 476.5H703.9M699.1 494.5H703.9M703.1 480.5H707.9M703.1 499.5H707.9M707.1 501.5H711.9M707.1 510.5H711.9" fill="none" stroke="#e33b3b" stroke-width="1.2" stroke-opacity="0.85"/><polyline points="460.5,501.8 463.6,498.2 467.6,495.9 471.5,494.6 475.5,493.9 479.5,493.6 483.4,493.9 487.4,494.6 491.4,495.8 495.3,496.9 499.3,497.6 503.2,498.9 507.2,500.3 511.2,501.1 515.1,501.1 519.1,499.8 523.1,498.0 527.0,496.4 531.0,494.9 535.0,493.2 538.9,491.4 542.9,488.9 546.9,485.5 550.8,481.8 554.8,478.0 558.7,474.2 562.7,470.1 566.7,466.0 570.6,461.8 574.6,457.4 578.6,453.0 582.5,448.8 586.5,444.9 590.5,440.9 594.4,436.8 598.4,432.6 602.4,428.6 606.3,425.2 610.3,422.2 614.3,419.4 618.2,417.1 622.2,415.1 626.1,414.0 630.1,413.5 634.1,414.0 638.0,415.1 642.0,416.5 646.0,418.5 649.9,421.2 653.9,424.2 657.9,427.1 661.8,430.7 665.8,435.6 669.8,439.6 673.7,443.4 677.7,446.8 681.6,450.6 685.6,454.6 689.6,458.3 693.5,461.9 697.5,466.3 701.5,469.5 705.4,466.6 709.4,471.0" fill="none" stroke="#0070c0" stroke-width="2.7" stroke-linejoin="round"/><path d="M460.5 498.3L463.4 501.8L460.5 505.3L457.6 501.8ZM463.6 494.7L466.5 498.2L463.6 501.7L460.7 498.2ZM467.6 492.4L470.5 495.9L467.6 499.4L464.7 495.9ZM471.5 491.1L474.4 494.6L471.5 498.1L468.6 494.6ZM475.5 490.4L478.4 493.9L475.5 497.4L472.6 493.9ZM479.5 490.1L482.4 493.6L479.5 497.1L476.6 493.6ZM483.4 490.4L486.3 493.9L483.4 497.4L480.5 493.9ZM487.4 491.1L490.3 494.6L487.4 498.1L484.5 494.6ZM491.4 492.3L494.3 495.8L491.4 499.3L488.5 495.8ZM495.3 493.4L498.2 496.9L495.3 500.4L492.4 496.9ZM499.3 494.1L502.2 497.6L499.3 501.1L496.4 497.6ZM503.2 495.4L506.1 498.9L503.2 502.4L500.3 498.9ZM507.2 496.8L510.1 500.3L507.2 503.8L504.3 500.3ZM511.2 497.6L514.1 501.1L511.2 504.6L508.3 501.1ZM515.1 497.6L518.0 501.1L515.1 504.6L512.2 501.1ZM519.1 496.3L522.0 499.8L519.1 503.3L516.2 499.8ZM523.1 494.5L526.0 498.0L523.1 501.5L520.2 498.0ZM527.0 492.9L529.9 496.4L527.0 499.9L524.1 496.4ZM531.0 491.4L533.9 494.9L531.0 498.4L528.1 494.9ZM535.0 489.7L537.9 493.2L535.0 496.7L532.1 493.2ZM538.9 487.9L541.8 491.4L538.9 494.9L536.0 491.4ZM542.9 485.4L545.8 488.9L542.9 492.4L540.0 488.9ZM546.9 482.0L549.8 485.5L546.9 489.0L544.0 485.5ZM550.8 478.3L553.7 481.8L550.8 485.3L547.9 481.8ZM554.8 474.5L557.7 478.0L554.8 481.5L551.9 478.0ZM558.7 470.7L561.6 474.2L558.7 477.7L555.8 474.2ZM562.7 466.6L565.6 470.1L562.7 473.6L559.8 470.1ZM566.7 462.5L569.6 466.0L566.7 469.5L563.8 466.0ZM570.6 458.3L573.5 461.8L570.6 465.3L567.7 461.8ZM574.6 453.9L577.5 457.4L574.6 460.9L571.7 457.4ZM578.6 449.5L581.5 453.0L578.6 456.5L575.7 453.0ZM582.5 445.3L585.4 448.8L582.5 452.3L579.6 448.8ZM586.5 441.4L589.4 444.9L586.5 448.4L583.6 444.9ZM590.5 437.4L593.4 440.9L590.5 444.4L587.6 440.9ZM594.4 433.3L597.3 436.8L594.4 440.3L591.5 436.8ZM598.4 429.1L601.3 432.6L598.4 436.1L595.5 432.6ZM602.4 425.1L605.3 428.6L602.4 432.1L599.5 428.6ZM606.3 421.7L609.2 425.2L606.3 428.7L603.4 425.2ZM610.3 418.7L613.2 422.2L610.3 425.7L607.4 422.2ZM614.3 415.9L617.2 419.4L614.3 422.9L611.4 419.4ZM618.2 413.6L621.1 417.1L618.2 420.6L615.3 417.1ZM622.2 411.6L625.1 415.1L622.2 418.6L619.3 415.1ZM626.1 410.5L629.0 414.0L626.1 417.5L623.2 414.0ZM630.1 410.0L633.0 413.5L630.1 417.0L627.2 413.5ZM634.1 410.5L637.0 414.0L634.1 417.5L631.2 414.0ZM638.0 411.6L640.9 415.1L638.0 418.6L635.1 415.1ZM642.0 413.0L644.9 416.5L642.0 420.0L639.1 416.5ZM646.0 415.0L648.9 418.5L646.0 422.0L643.1 418.5ZM649.9 417.7L652.8 421.2L649.9 424.7L647.0 421.2ZM653.9 420.7L656.8 424.2L653.9 427.7L651.0 424.2ZM657.9 423.6L660.8 427.1L657.9 430.6L655.0 427.1ZM661.8 427.2L664.7 430.7L661.8 434.2L658.9 430.7ZM665.8 432.1L668.7 435.6L665.8 439.1L662.9 435.6ZM669.8 436.1L672.7 439.6L669.8 443.1L666.9 439.6ZM673.7 439.9L676.6 443.4L673.7 446.9L670.8 443.4ZM677.7 443.3L680.6 446.8L677.7 450.3L674.8 446.8ZM681.6 447.1L684.5 450.6L681.6 454.1L678.7 450.6ZM685.6 451.1L688.5 454.6L685.6 458.1L682.7 454.6ZM689.6 454.8L692.5 458.3L689.6 461.8L686.7 458.3ZM693.5 458.4L696.4 461.9L693.5 465.4L690.6 461.9ZM697.5 462.8L700.4 466.3L697.5 469.8L694.6 466.3ZM701.5 466.0L704.4 469.5L701.5 473.0L698.6 469.5ZM705.4 463.1L708.3 466.6L705.4 470.1L702.5 466.6ZM709.4 467.5L712.3 471.0L709.4 474.5L706.5 471.0Z" fill="#0070c0"/><polyline points="460.5,508.5 463.6,488.9 467.6,480.8 471.5,477.6 475.5,476.7 479.5,476.8 483.4,477.4 487.4,478.3 491.4,479.6 495.3,481.6 499.3,483.9 503.2,486.2 507.2,488.3 511.2,490.6 515.1,492.8 519.1,494.7 523.1,496.3 527.0,497.5 531.0,498.7 535.0,499.5 538.9,494.9 542.9,488.9 546.9,482.4 550.8,475.9 554.8,469.3 558.7,462.8 562.7,456.7 566.7,451.0 570.6,445.2 574.6,439.1 578.6,432.7 582.5,425.9 586.5,418.4 590.5,409.8 594.4,401.3 598.4,394.4 602.4,387.6 606.3,381.3 610.3,374.6 614.3,371.0 618.2,367.2 622.2,363.8 626.1,360.3 630.1,362.1 634.1,365.2 638.0,368.0 642.0,371.5 646.0,375.6 649.9,379.6 653.9,383.7 657.9,387.8 661.8,393.9 665.8,408.2 669.8,418.4 673.7,426.0 677.7,433.9 681.6,446.4 685.6,457.0 689.6,463.7 693.5,470.3 697.5,476.9 701.5,482.1 705.4,488.8 709.4,505.5" fill="none" stroke="#ff0000" stroke-width="2.8" stroke-linejoin="round"/><path d="M460.5 505.0L463.4 508.5L460.5 512.0L457.6 508.5ZM463.6 485.4L466.5 488.9L463.6 492.4L460.7 488.9ZM467.6 477.3L470.5 480.8L467.6 484.3L464.7 480.8ZM471.5 474.1L474.4 477.6L471.5 481.1L468.6 477.6ZM475.5 473.2L478.4 476.7L475.5 480.2L472.6 476.7ZM479.5 473.3L482.4 476.8L479.5 480.3L476.6 476.8ZM483.4 473.9L486.3 477.4L483.4 480.9L480.5 477.4ZM487.4 474.8L490.3 478.3L487.4 481.8L484.5 478.3ZM491.4 476.1L494.3 479.6L491.4 483.1L488.5 479.6ZM495.3 478.1L498.2 481.6L495.3 485.1L492.4 481.6ZM499.3 480.4L502.2 483.9L499.3 487.4L496.4 483.9ZM503.2 482.7L506.1 486.2L503.2 489.7L500.3 486.2ZM507.2 484.8L510.1 488.3L507.2 491.8L504.3 488.3ZM511.2 487.1L514.1 490.6L511.2 494.1L508.3 490.6ZM515.1 489.3L518.0 492.8L515.1 496.3L512.2 492.8ZM519.1 491.2L522.0 494.7L519.1 498.2L516.2 494.7ZM523.1 492.8L526.0 496.3L523.1 499.8L520.2 496.3ZM527.0 494.0L529.9 497.5L527.0 501.0L524.1 497.5ZM531.0 495.2L533.9 498.7L531.0 502.2L528.1 498.7ZM535.0 496.0L537.9 499.5L535.0 503.0L532.1 499.5ZM538.9 491.4L541.8 494.9L538.9 498.4L536.0 494.9ZM542.9 485.4L545.8 488.9L542.9 492.4L540.0 488.9ZM546.9 478.9L549.8 482.4L546.9 485.9L544.0 482.4ZM550.8 472.4L553.7 475.9L550.8 479.4L547.9 475.9ZM554.8 465.8L557.7 469.3L554.8 472.8L551.9 469.3ZM558.7 459.3L561.6 462.8L558.7 466.3L555.8 462.8ZM562.7 453.2L565.6 456.7L562.7 460.2L559.8 456.7ZM566.7 447.5L569.6 451.0L566.7 454.5L563.8 451.0ZM570.6 441.7L573.5 445.2L570.6 448.7L567.7 445.2ZM574.6 435.6L577.5 439.1L574.6 442.6L571.7 439.1ZM578.6 429.2L581.5 432.7L578.6 436.2L575.7 432.7ZM582.5 422.4L585.4 425.9L582.5 429.4L579.6 425.9ZM586.5 414.9L589.4 418.4L586.5 421.9L583.6 418.4ZM590.5 406.3L593.4 409.8L590.5 413.3L587.6 409.8ZM594.4 397.8L597.3 401.3L594.4 404.8L591.5 401.3ZM598.4 390.9L601.3 394.4L598.4 397.9L595.5 394.4ZM602.4 384.1L605.3 387.6L602.4 391.1L599.5 387.6ZM606.3 377.8L609.2 381.3L606.3 384.8L603.4 381.3ZM610.3 371.1L613.2 374.6L610.3 378.1L607.4 374.6ZM614.3 367.5L617.2 371.0L614.3 374.5L611.4 371.0ZM618.2 363.7L621.1 367.2L618.2 370.7L615.3 367.2ZM622.2 360.3L625.1 363.8L622.2 367.3L619.3 363.8ZM626.1 356.8L629.0 360.3L626.1 363.8L623.2 360.3ZM630.1 358.6L633.0 362.1L630.1 365.6L627.2 362.1ZM634.1 361.7L637.0 365.2L634.1 368.7L631.2 365.2ZM638.0 364.5L640.9 368.0L638.0 371.5L635.1 368.0ZM642.0 368.0L644.9 371.5L642.0 375.0L639.1 371.5ZM646.0 372.1L648.9 375.6L646.0 379.1L643.1 375.6ZM649.9 376.1L652.8 379.6L649.9 383.1L647.0 379.6ZM653.9 380.2L656.8 383.7L653.9 387.2L651.0 383.7ZM657.9 384.3L660.8 387.8L657.9 391.3L655.0 387.8ZM661.8 390.4L664.7 393.9L661.8 397.4L658.9 393.9ZM665.8 404.7L668.7 408.2L665.8 411.7L662.9 408.2ZM669.8 414.9L672.7 418.4L669.8 421.9L666.9 418.4ZM673.7 422.5L676.6 426.0L673.7 429.5L670.8 426.0ZM677.7 430.4L680.6 433.9L677.7 437.4L674.8 433.9ZM681.6 442.9L684.5 446.4L681.6 449.9L678.7 446.4ZM685.6 453.5L688.5 457.0L685.6 460.5L682.7 457.0ZM689.6 460.2L692.5 463.7L689.6 467.2L686.7 463.7ZM693.5 466.8L696.4 470.3L693.5 473.8L690.6 470.3ZM697.5 473.4L700.4 476.9L697.5 480.4L694.6 476.9ZM701.5 478.6L704.4 482.1L701.5 485.6L698.6 482.1ZM705.4 485.3L708.3 488.8L705.4 492.3L702.5 488.8ZM709.4 502.0L712.3 505.5L709.4 509.0L706.5 505.5Z" fill="#ff0000"/>
</svg>
</body></html>
